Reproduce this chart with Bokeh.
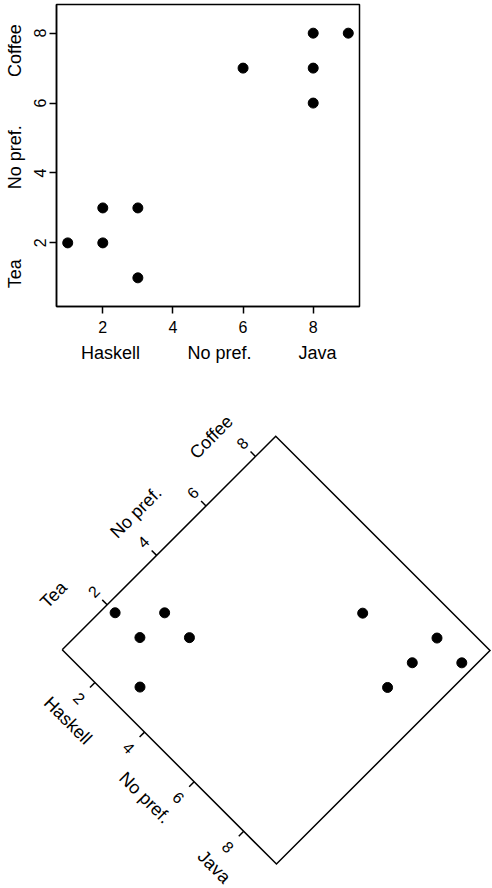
import numpy as np
from bokeh.plotting import figure
from bokeh.models import Range1d, FixedTicker, LinearAxis, CustomJSTickFormatter
from bokeh.layouts import column
from bokeh.embed import file_html
from bokeh.resources import INLINE
from bokeh.core.properties import value

# ---------------- data ----------------
language = [1, 2, 2, 3, 3, 6, 8, 8, 8, 9]       # x: Haskell (low) .. Java (high)
drink = [2, 2, 3, 3, 1, 7, 8, 7, 6, 8]          # y: Tea (low) .. Coffee (high)
tick_values = [2, 4, 6, 8]
x_names = ["Haskell", "No pref.", "Java"]
x_name_at = [2.22, 5.33, 8.12]
y_names = ["Tea", "No pref.", "Coffee"]
y_name_at = [1.12, 4.45, 7.5]

FONT = "Liberation Sans"
TICK_FS = "16px"
NAME_FS = "18px"

# ranges (4% padding, equal aspect)
span = (max(language) - min(language)) * 1.08
x_lo = min(language) - (max(language) - min(language)) * 0.04
x_hi = x_lo + span
y_mid = (min(drink) + max(drink)) / 2
y_lo, y_hi = y_mid - span / 2, y_mid + span / 2

FW, FH = 303, 302            # frame size in px
sx, sy = FW / span, FH / span

# ---------------- top plot ----------------
TOP_B, BOT_B = 4, 74
H1 = TOP_B + FH + BOT_B
p1 = figure(frame_width=FW, frame_height=FH, x_range=Range1d(x_lo, x_hi), y_range=Range1d(y_lo, y_hi),
            output_backend="svg", toolbar_location=None, title=None,
            min_border_left=56, min_border_right=120,
            min_border_top=TOP_B, min_border_bottom=BOT_B)
p1.grid.visible = False
p1.outline_line_color = "black"
p1.outline_line_width = 1.5
p1.background_fill_color = "white"
p1.border_fill_color = "white"


def style_axis(ax, names=None):
    ax.axis_line_color = "black" if names is None else None
    ax.axis_line_width = 1.5
    ax.major_tick_out = 7 if names is None else 0
    ax.major_tick_in = 0
    ax.major_tick_line_width = 1.5
    ax.major_tick_line_color = "black" if names is None else None
    ax.minor_tick_out = 0
    ax.minor_tick_in = 0
    ax.major_label_text_font = FONT
    ax.major_label_text_font_size = TICK_FS if names is None else NAME_FS
    ax.major_label_text_color = "black"


for ax in (p1.xaxis[0], p1.yaxis[0]):
    ax.ticker = FixedTicker(ticks=tick_values)
    style_axis(ax)
p1.xaxis[0].major_label_standoff = 7
p1.yaxis[0].major_label_standoff = 3
p1.yaxis[0].major_label_orientation = "vertical"

# category name axes
xname_axis = LinearAxis(ticker=FixedTicker(ticks=x_name_at),
                        formatter=CustomJSTickFormatter(args=dict(names=x_names),
                                                        code="return names[index];"))
style_axis(xname_axis, x_names)
xname_axis.major_label_standoff = 7
p1.add_layout(xname_axis, "below")

yname_axis = LinearAxis(ticker=FixedTicker(ticks=y_name_at),
                        formatter=CustomJSTickFormatter(args=dict(names=y_names),
                                                        code="return names[index];"))
style_axis(yname_axis, y_names)
yname_axis.major_label_standoff = 6
yname_axis.major_label_orientation = "vertical"
p1.add_layout(yname_axis, "left")

p1.scatter(language, drink, size=10, color="black")

# ---------------- rotated plot ----------------
TOP2 = H1
H2 = 888 - H1
W2 = 492
p2 = figure(width=W2, height=H2, x_range=Range1d(0, W2), y_range=Range1d(-(TOP2 + H2), -TOP2),
            output_backend="svg", toolbar_location=None, title=None, min_border=0,
            x_axis_location=None, y_axis_location=None)
p2.grid.visible = False
p2.outline_line_color = None
p2.background_fill_color = "white"
p2.border_fill_color = "white"
for p in (p1, p2):
    if "frame_align" in p.properties():
        p.frame_align = False

CX, CY = 61.7, 649.3   # page position of the (x_lo, y_lo) corner
c = s = np.sqrt(0.5)


def rot(u, w):
    """local plot px (u right, w down) -> figure-2 data coords (page x, -page y), rotated 45deg clockwise"""
    u = np.asarray(u, dtype=float)
    w = np.asarray(w, dtype=float)
    px = CX + c * u - s * w
    py = CY + s * u + c * w
    return px, -py


def ux(v):
    return (np.asarray(v, dtype=float) - x_lo) * sx


def wy(v):
    return -(np.asarray(v, dtype=float) - y_lo) * sy


# box
bx, by = rot([0, FW, FW, 0, 0], [0, 0, -FH, -FH, 0])
p2.line(bx, by, line_color="black", line_width=1.5, line_join="miter")

# x ticks (lower-left edge)
tu = ux(tick_values)
x0, y0 = rot(tu, np.zeros(len(tu)))
x1, y1 = rot(tu, np.full(len(tu), 7.0))
p2.segment(x0, y0, x1, y1, line_color="black", line_width=1.5)
lx, ly = rot(tu, np.full(len(tu), 22.0))
p2.text(lx, ly, text=[str(t) for t in tick_values], angle=-np.pi / 4, text_align="center",
        text_baseline="middle", text_font=value(FONT), text_font_size=TICK_FS, text_color="black")
nx, ny = rot(ux(x_name_at), np.full(len(x_names), 46.0))
p2.text(nx, ny, text=x_names, angle=-np.pi / 4, text_align="center",
        text_baseline="middle", text_font=value(FONT), text_font_size=NAME_FS, text_color="black")

# y ticks (upper-left edge)
tw = wy(tick_values)
x0, y0 = rot(np.zeros(len(tw)), tw)
x1, y1 = rot(np.full(len(tw), -7.0), tw)
p2.segment(x0, y0, x1, y1, line_color="black", line_width=1.5)
lx, ly = rot(np.full(len(tw), -19.0), tw)
p2.text(lx, ly, text=[str(t) for t in tick_values], angle=np.pi / 4, text_align="center",
        text_baseline="middle", text_font=value(FONT), text_font_size=TICK_FS, text_color="black")
nx, ny = rot(np.full(len(y_names), -45.0), wy(y_name_at))
p2.text(nx, ny, text=y_names, angle=np.pi / 4, text_align="center",
        text_baseline="middle", text_font=value(FONT), text_font_size=NAME_FS, text_color="black")

# points
px_, py_ = rot(ux(language), wy(drink))
p2.scatter(px_, py_, size=10, color="black")

layout = column(p1, p2, spacing=0)
open("out.html", "w").write(file_html(layout, INLINE))
